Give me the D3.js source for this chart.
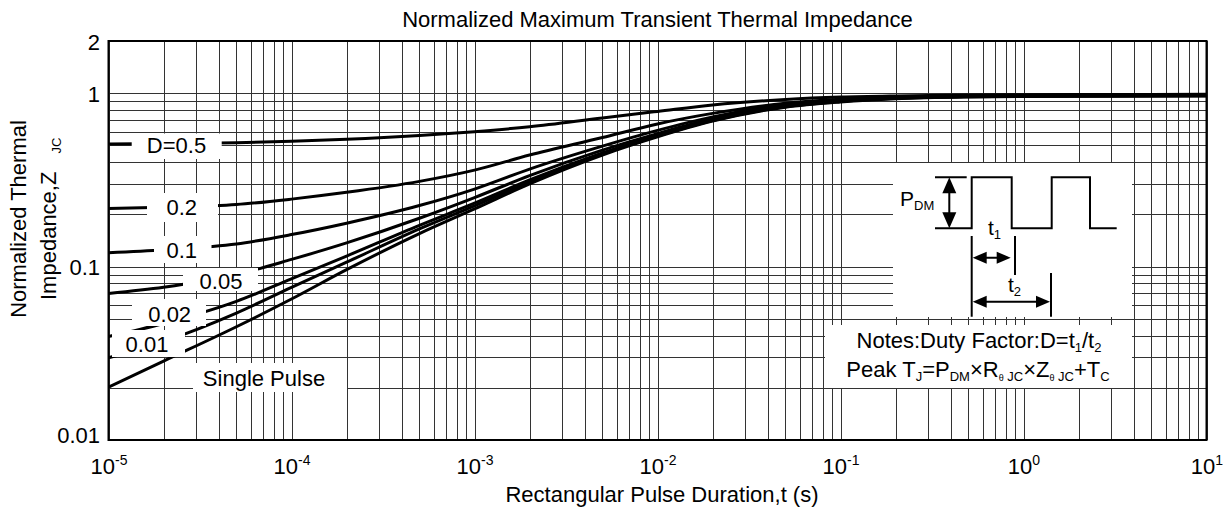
<!DOCTYPE html>
<html><head><meta charset="utf-8">
<script src="https://cdn.jsdelivr.net/npm/d3@7"></script>
<style>
body{margin:0;background:#fff;}
svg text{font-family:"Liberation Sans",Arial,sans-serif;fill:#000;}
</style></head><body>
<svg id="c" width="1231" height="515"></svg>
<script>
// ---------- data ----------
const durations = [1e-5,2e-5,5e-5,1e-4,2e-4,5e-4,1e-3,2e-3,5e-3,1e-2,2e-2,5e-2,1e-1,2e-1,5e-1,1,2,5,10];
const zD05   = [0.510,0.512,0.518,0.528,0.542,0.570,0.600,0.640,0.720,0.785,0.855,0.920,0.950,0.965,0.975,0.980,0.982,0.984,0.985];
const zD02   = [0.216,0.220,0.228,0.245,0.268,0.310,0.360,0.440,0.555,0.665,0.765,0.875,0.922,0.950,0.965,0.970,0.973,0.975,0.978];
const zD01   = [0.120,0.125,0.135,0.153,0.178,0.225,0.280,0.365,0.495,0.610,0.730,0.858,0.912,0.945,0.962,0.967,0.970,0.972,0.975];
const zD005  = [0.070,0.076,0.090,0.110,0.137,0.190,0.250,0.335,0.470,0.585,0.712,0.848,0.905,0.940,0.960,0.965,0.968,0.970,0.972];
const zD002  = [0.0395,0.047,0.063,0.085,0.115,0.173,0.232,0.316,0.452,0.572,0.702,0.842,0.900,0.937,0.957,0.962,0.965,0.967,0.970];
const zD001  = [0.0298,0.037,0.054,0.076,0.106,0.165,0.224,0.307,0.446,0.566,0.696,0.836,0.895,0.934,0.955,0.960,0.963,0.965,0.968];
const zSingle= [0.0202,0.0285,0.045,0.065,0.096,0.155,0.215,0.300,0.440,0.560,0.690,0.830,0.890,0.930,0.952,0.957,0.960,0.962,0.965];
const seriesNames = ["D=0.5","0.2","0.1","0.05","0.02","0.01","Single Pulse"];
const xTickExponents = ["-5","-4","-3","-2","-1","0","1"];
const yTickValues = [0.01,0.1,1,2];
const yTickLabels = ["0.01","0.1","1","2"];
const titleText = "Normalized Maximum Transient Thermal Impedance";
const xTitle = "Rectangular Pulse Duration,t (s)";

// ---------- layout ----------
const svg = d3.select("#c");
const m = {l:108.5, t:41, r:1206.5, b:440};
const x = d3.scaleLog().domain([1e-5,10]).range([m.l,m.r]);
const y = d3.scaleLog().domain([0.01,2]).range([m.b,m.t]);
const FS = 22;

// grid
const grid = svg.append("g").attr("color","#333").attr("shape-rendering","crispEdges");
grid.append("g").attr("transform",`translate(0,${m.b})`)
  .call(d3.axisBottom(x).tickValues(x.ticks()).tickSize(-(m.b-m.t)).tickFormat(""))
  .call(g=>g.select(".domain").remove());
grid.append("g").attr("transform",`translate(${m.l},0)`)
  .call(d3.axisLeft(y).tickValues(y.ticks()).tickSize(-(m.r-m.l)).tickFormat(""))
  .call(g=>g.select(".domain").remove());

// curves
svg.append("clipPath").attr("id","pc").append("rect")
  .attr("x",m.l).attr("y",m.t).attr("width",m.r-m.l).attr("height",m.b-m.t);
const series = [zD05,zD02,zD01,zD005,zD002,zD001,zSingle].map((z,i)=>({name:seriesNames[i],z}));
const line = d3.line().x((d,i)=>x(durations[i])).y(d=>y(d)).curve(d3.curveMonotoneX);
svg.append("g").attr("clip-path","url(#pc)").selectAll("path").data(series).join("path")
  .attr("d",s=>line(s.z)).attr("fill","none").attr("stroke","#000").attr("stroke-width",3);

// curve labels with white boxes
const labelLayout = [
  {box:[131.7,133.5,221.7,159], cx:176.5, cy:145},
  {box:[147,193,218,222], cx:181.7, cy:207},
  {box:[154,236,211.5,263], cx:181.7, cy:250},
  {box:[183,268,258,291], cx:221, cy:280.5},
  {box:[132,299,206,326], cx:169.7, cy:313.5},
  {box:[112,330,185,357], cx:147, cy:343.5},
  {box:[193,363,347,392], cx:264, cy:377.5}
];
const lab = svg.append("g");
series.forEach((s,i)=>{
  const L = labelLayout[i];
  lab.append("rect").attr("x",L.box[0]).attr("y",L.box[1]).attr("width",L.box[2]-L.box[0]).attr("height",L.box[3]-L.box[1]).attr("fill","#fff");
  lab.append("text").attr("x",L.cx).attr("y",L.cy+8).attr("text-anchor","middle").attr("font-size",FS).text(s.name);
});

// inset
const ins = svg.append("g");
ins.append("rect").attr("x",893).attr("y",163).attr("width",239).attr("height",154).attr("fill","#fff");
ins.append("rect").attr("x",825).attr("y",325).attr("width",307).attr("height",63).attr("fill","#fff");
const yTop=177.3, yBot=228.3;
ins.append("path").attr("fill","none").attr("stroke","#000").attr("stroke-width",2)
  .attr("d",`M935,${yBot}H971.7V${yTop}H1011.7V${yBot}H1051.7V${yTop}H1090V${yBot}H1116.7 M935,${yTop}H966.7`);
ins.append("path").attr("fill","none").attr("stroke","#000").attr("stroke-width",2)
  .attr("d",`M971.7,236V316.7 M1015,236V275 M1051,273V316.7 M949.3,${yTop+12}V${yBot-12} M983,257.7H1000 M983,301.7H1039`);
function head(px,py,dir,len,wid){
  let p;
  if(dir==='up') p=[[px,py],[px-wid/2,py+len],[px+wid/2,py+len]];
  if(dir==='down') p=[[px,py],[px-wid/2,py-len],[px+wid/2,py-len]];
  if(dir==='left') p=[[px,py],[px+len,py-wid/2],[px+len,py+wid/2]];
  if(dir==='right') p=[[px,py],[px-len,py-wid/2],[px-len,py+wid/2]];
  ins.append("path").attr("d","M"+p.map(q=>q.join(",")).join("L")+"Z").attr("fill","#000");
}
head(949.3,yTop,'up',16,14); head(949.3,yBot,'down',16,14);
head(972.7,257.7,'left',14,12); head(1010.7,257.7,'right',14,12);
head(972.7,301.7,'left',14,12); head(1050,301.7,'right',14,12);
const pdm = ins.append("text").attr("x",900).attr("y",206).attr("font-size",21);
pdm.append("tspan").text("P"); pdm.append("tspan").attr("font-size",13).attr("dy",4).text("DM");
const t1 = ins.append("text").attr("x",988).attr("y",235).attr("font-size",21);
t1.append("tspan").text("t"); t1.append("tspan").attr("font-size",13).attr("dy",4).text("1");
const t2 = ins.append("text").attr("x",1008).attr("y",292).attr("font-size",21);
t2.append("tspan").text("t"); t2.append("tspan").attr("font-size",13).attr("dy",4).text("2");
function rich(xp,yp,parts){
  const t = ins.append("text").attr("x",xp).attr("y",yp).attr("font-size",FS).attr("text-anchor","middle");
  let subOn=false;
  parts.forEach(([txt,isSub,fs])=>{
    const ts=t.append("tspan").text(txt);
    if(isSub){ ts.attr("font-size",fs||13); if(!subOn){ts.attr("dy",4);subOn=true;} }
    else if(subOn){ ts.attr("dy",-4); subOn=false; }
  });
}
rich(979,348,[["Notes:Duty Factor:D=t"],["1",true],["/t"],["2",true]]);
rich(978,377,[["Peak T"],["J",true],["=P"],["DM",true],["×R"],["θ",true,9],[" JC",true],["×Z"],["θ",true,9],[" JC",true],["+T"],["C",true]]);

// frame
svg.append("rect").attr("x",m.l).attr("y",m.t).attr("width",m.r-m.l).attr("height",m.b-m.t)
  .attr("fill","none").attr("stroke","#000").attr("stroke-width",2);

// axes labels
const xa = svg.append("g").attr("transform",`translate(0,${m.b})`)
  .call(d3.axisBottom(x).tickValues(xTickExponents.map(e=>Math.pow(10,+e))).tickSize(0).tickFormat(""));
xa.select(".domain").remove();
xa.selectAll(".tick text").remove();
xa.selectAll(".tick").each(function(d,i){
  const t = d3.select(this).append("text").attr("y",34).attr("text-anchor","middle").attr("font-size",FS).attr("fill","#000");
  t.append("tspan").text("10");
  t.append("tspan").attr("font-size",14).attr("dy",-9).text(xTickExponents[i]);
});
const ya = svg.append("g").attr("transform",`translate(${m.l},0)`)
  .call(d3.axisLeft(y).tickValues(yTickValues).tickSize(0).tickFormat((d,i)=>yTickLabels[i]));
ya.select(".domain").remove();
ya.selectAll(".tick text").attr("font-size",FS).attr("fill","#000").attr("x",-8.5).attr("dy",null)
  .attr("y",(d)=> d===0.01 ? 2 : 8);
xa.attr("font-family",null); ya.attr("font-family",null);

svg.append("text").attr("x",657.5).attr("y",27).attr("text-anchor","middle").attr("font-size",FS).text(titleText);
svg.append("text").attr("x",662).attr("y",502).attr("text-anchor","middle").attr("font-size",FS).text(xTitle);
svg.append("text").attr("transform","translate(26,219) rotate(-90)").attr("text-anchor","middle").attr("font-size",FS).text("Normalized Thermal");
const yl2 = svg.append("text").attr("transform","translate(56,300) rotate(-90)").attr("text-anchor","start").attr("font-size",FS);
yl2.append("tspan").text("Impedance,Z");
yl2.append("tspan").attr("dx",18).attr("dy",5).attr("font-size",13).text("JC");
</script>
</body></html>
